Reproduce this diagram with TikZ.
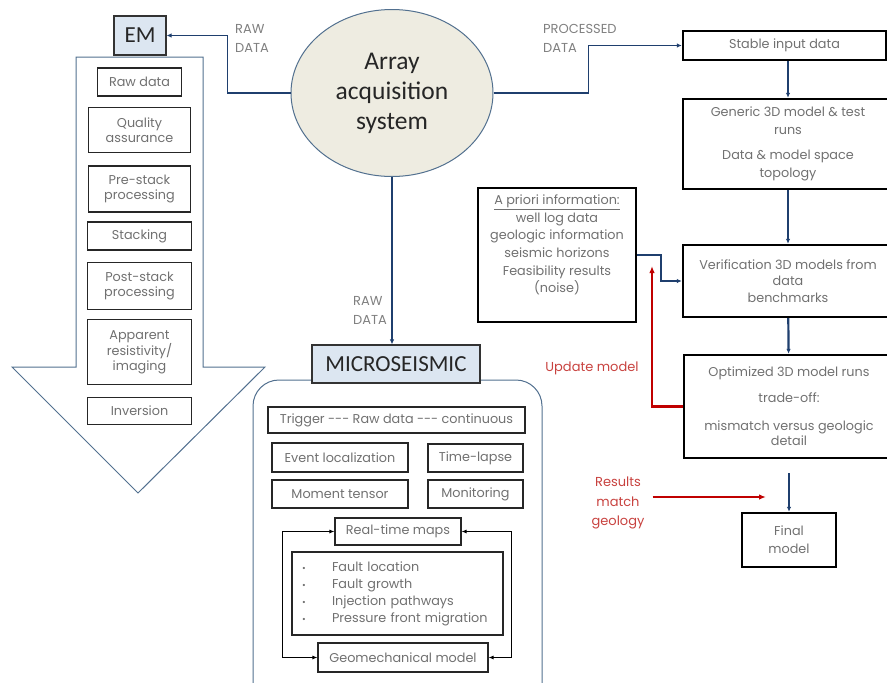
\documentclass[tikz,border=0pt]{standalone}
\usepackage{fontspec}
\setmainfont{Poppins}
\newfontfamily\calfont{Carlito}
\usetikzlibrary{arrows.meta,shapes.geometric,positioning}

\definecolor{navy}{HTML}{1F3F6E}
\definecolor{steel}{HTML}{52708F}
\definecolor{lightsky}{HTML}{DCE6F1}
\definecolor{beige}{HTML}{EEECE1}
\definecolor{txtgray}{HTML}{707070}
\definecolor{darkred}{HTML}{C00000}
\definecolor{softred}{HTML}{C8423F}

\newcommand{\blt}{\makebox[30pt][l]{\fontsize{9}{9}\selectfont\textbullet}}

\begin{document}
\begin{tikzpicture}
[x=1pt,y=-1pt,
 every node/.style={font=\fontsize{12.8}{15}\selectfont,text=txtgray,align=center,inner sep=0pt},
 stepbox/.style={draw=black!85,line width=1.1pt},
 flowbox/.style={draw=black,line width=2.4pt},
 headbox/.style={draw=black!80,fill=lightsky,line width=1.1pt,text=black!85,font=\calfont\fontsize{23}{26}\selectfont},
 lbl/.style={font=\fontsize{13}{19}\selectfont,text=black!50,align=left,anchor=west},
 redlbl/.style={font=\fontsize{13}{19.5}\selectfont,text=softred},
 bluearrow/.style={navy,line width=1.5pt,-{Latex[length=5pt,width=4.5pt]}},
 redarrow/.style={darkred,line width=2.2pt,-{Latex[length=7pt,width=5.5pt]}}]
\useasboundingbox (0,0) rectangle (887,683);

% EM branch
\draw[steel,line width=1pt] (76,57) -- (203,57) -- (203,367) -- (265,367) -- (138,493)
  -- (12,367) -- (76,367) -- cycle;
\node[headbox,minimum width=52pt,minimum height=39pt] (em) at (140,35.5) {EM};
\foreach \nm/\yy/\ww/\hh/\txt in {raw/82/84/28/{Raw data},
  qa/130/102/45/{Quality\\assurance},
  pre/189/102/46/{Pre-stack\\processing},
  stack/236/104/28/{Stacking},
  post/286/104/47/{Post-stack\\processing},
  app/352/104/65/{Apparent\\resistivity/\\imaging},
  inv/411/104/27/{Inversion}}
\node[stepbox,minimum width=\ww pt,minimum height=\hh pt] (\nm) at (139.5,\yy) {\txt};

% acquisition
\node[ellipse,draw=steel,fill=beige,line width=1pt,minimum width=202pt,minimum height=167pt,
  text=black!85,font=\calfont\fontsize{25.5}{30}\selectfont] (acq) at (392,93)
  {\raisebox{-4pt}{\parbox{124pt}{\centering Array\\acquisition\\system}}};
\node[lbl] (rawem) at (235,38) {RAW\\DATA};
\node[lbl] (procd) at (543,38) {PROCESSED\\DATA};
\node[lbl] (rawms) at (353,310) {RAW\\DATA};

% microseismic branch
\draw[steel,line width=1pt,rounded corners=26pt] (253,700) -- (253,380) -- (542,380) -- (542,700);
\node[headbox,minimum width=168pt,minimum height=38pt] (micro) at (396,364) {MICROSEISMIC};
\node[stepbox,minimum width=257pt,minimum height=26pt] (trig) at (396.5,420) {Trigger -{}-{}- Raw data -{}-{}- continuous};
\node[stepbox,minimum width=136pt,minimum height=29pt] (event) at (340,457.5) {Event localization};
\node[stepbox,minimum width=95pt,minimum height=28pt] (lapse) at (475.5,458) {Time-lapse};
\node[stepbox,minimum width=136pt,minimum height=28pt] (tensor) at (340,494) {Moment tensor};
\node[stepbox,minimum width=95pt,minimum height=28pt] (monit) at (475.5,494) {Monitoring};
\node[stepbox,minimum width=126pt,minimum height=27pt] (rtmap) at (398,531.5) {Real-time maps};
\node[stepbox,inner xsep=10pt,text width=191pt,minimum height=83pt,align=left,font=\fontsize{12.8}{17}\selectfont] (faults) at (397.5,593.5)
  {\blt Fault location\\\blt Fault growth\\\blt Injection pathways\\\blt Pressure front migration};
\node[stepbox,minimum width=170pt,minimum height=29pt] (geomech) at (403,657.5) {Geomechanical model};
\draw[black,line width=1.1pt,{Latex[length=5pt,width=4pt]}-{Latex[length=5pt,width=4pt]}] (rtmap.west) -- ++(-52,0) |- (geomech.west);
\draw[black,line width=1.1pt,{Latex[length=5pt,width=4pt]}-{Latex[length=5pt,width=4pt]}] (rtmap.east) -- ++(50,0) |- (geomech.east);

% right column
\node[flowbox,minimum width=203pt,minimum height=29pt] (stable) at (784.5,45.5) {Stable input data};
\node[flowbox,minimum width=210pt,minimum height=90pt,font=\fontsize{12.8}{18}\selectfont] (generic) at (788,144)
  {Generic 3D model \& test\\runs\\[7pt]Data \& model space\\topology};
\node[flowbox,minimum width=210pt,minimum height=72pt,font=\fontsize{12.8}{16.5}\selectfont] (verif) at (788,281)
  {Verification 3D models from\\data\\benchmarks};
\node[flowbox,minimum width=210pt,minimum height=103pt,font=\fontsize{12.8}{15}\selectfont] (optim) at (789,406.5)
  {Optimized 3D model runs\\[11pt]trade-off:\\[13pt]mismatch versus geologic\\detail};
\node[flowbox,minimum width=94pt,minimum height=54pt,font=\fontsize{12.8}{18}\selectfont] (final) at (789,540) {Final\\model};
\node[flowbox,minimum width=158pt,minimum height=134pt] (apriori) at (557,255) {};
\node[anchor=north,yshift=-8pt,font=\fontsize{12.8}{17.6}\selectfont] (aprioritxt) at (apriori.north)
  {\underline{A priori information:}\\well log data\\geologic information\\seismic horizons\\Feasibility results\\(noise)};
\node[redlbl] (update) at (592,368) {Update model};
\node[redlbl] (results) at (618,503) {Results\\match\\geology};
\coordinate (updtip) at (652,266);
\coordinate (fstart) at (789,473);
\coordinate (rtip) at (766,497);

% connectors
\draw[bluearrow] (acq.west) -- ++(-63,0) |- (em.east);
\draw[bluearrow] (acq.east) -- ++(95,0) |- (stable.west);
\draw[bluearrow] (acq.south) -- (acq.south |- micro.north);
\draw[bluearrow,line width=2.2pt] (stable.south -| generic.north) -- (generic.north);
\draw[bluearrow,line width=2.2pt] (generic) -- (verif);
\draw[bluearrow,line width=2.2pt] (verif) -- (optim);
\draw[bluearrow,line width=1.6pt] (fstart) -- (fstart |- final.north);
\draw[bluearrow,line width=2pt] (apriori.east) -- ++(24,0) |- (verif.west);
\draw[redarrow] (optim.west) -| (updtip);
\draw[redarrow,shorten <=8pt] (rtip -| results.east) -- (rtip);
\end{tikzpicture}
\end{document}
